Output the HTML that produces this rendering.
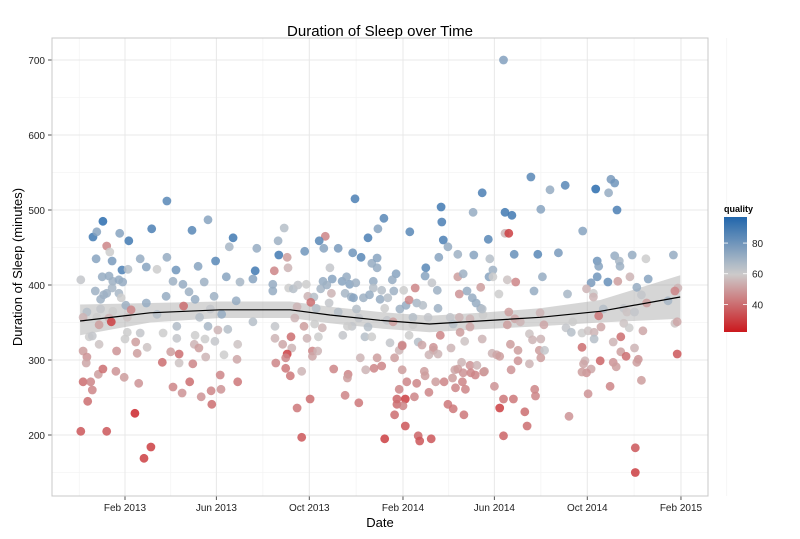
<!DOCTYPE html>
<html><head><meta charset="utf-8">
<style>
body{margin:0;background:#fff;}
svg{display:block;font-family:"Liberation Sans",Arial,sans-serif;}
</style></head>
<body>
<svg id="chart" width="800" height="539" viewBox="0 0 800 539">
  <rect x="0" y="0" width="800" height="539" fill="#fff"/>
  <g id="grid"></g>
  <g id="band"></g>
  <g id="points"></g>
  <g id="smooth"></g>
  <g id="axes"></g>
  <text x="380" y="36" text-anchor="middle" font-size="15" fill="#000">Duration of Sleep over Time</text>
  <text x="380" y="527" text-anchor="middle" font-size="13" fill="#000">Date</text>
  <text x="0" y="0" transform="translate(22,267) rotate(-90)" text-anchor="middle" font-size="13" fill="#000">Duration of Sleep (minutes)</text>
  <g id="legend"></g>
</svg>
<script>
// days since 2013-02-01, minutes of sleep, quality
const days = [-29,-42,-37,-24,-20,-38,-17,-4,4,-58,-30,-21,-16,-8,-3,-39,-24,-17,-28,-32,-8,-5,1,-50,-32,-16,8,-55,-37,-21,-18,-34,3,-47,-43,-34,0,3,-55,-50,-51,-35,-29,-55,-45,-43,-49,-58,-24,13,34,25,-12,-1,
55,109,88,142,35,5,-7,67,96,119,171,173,137,55,20,28,42,63,76,104,133,151,168,84,54,92,117,146,28,77,112,42,98,127,168,68,109,135,122,20,50,68,92,105,118,148,14,29,91,97,-11,16,60,71,130,106,147,49,71,89,125,18,85,148,63,126,75,113,100,114,
302,209,263,201,255,319,340,332,280,236,261,202,213,299,310,324,331,331,196,214,269,374,415,416,418,424,437,412,458,457,469,395,394,356,351,326,326,337,353,366,381,403,410,437,444,439,449,456,461,467,467,194,194,215,221,227,238,260,272,257,265,285,291,295,303,289,297,300,313,321,335,345,341,361,369,373,383,391,411,427,439,453,470,240,248,244,251,268,271,280,304,307,298,319,344,352,378,378,398,431,440,453,197,226,223,235,249,259,286,292,315,324,348,364,373,385,390,414,405,405,411,428,446,469,197,207,218,219,213,211,198,211,217,232,239,246,246,253,254,274,293,292,309,316,327,331,337,354,360,364,364,370,383,393,394,399,408,419,430,433,442,437,444,443,453,462,454,460,471,434,447,360,399,380,243,289,307,357,368,357,365,226,354,424,431,445,368,232,341,385,387,402,
533,558,578,618,635,638,643,646,499,508,546,499,504,477,601,511,542,569,479,483,478,483,502,513,548,620,622,643,649,650,666,684,720,612,620,634,647,663,672,687,491,537,581,606,615,615,678,726,722,713,469,504,512,545,519,502,550,588,579,586,628,622,655,659,669,685,655,662,680,722,725,531,535,546,600,608,616,616,625,641,651,506,516,544,551,600,482,488,492,546,516,531,507,472,604,602,612,606,600,624,641,645,651,658,669,674,672,678,725,485,538,539,497,510,637,608,492,525,528,583,497,670,670,497];
const minutes = [485,464,471,452,444,435,432,420,421,407,411,412,405,407,404,392,389,396,387,381,389,383,373,364,368,365,367,357,357,356,351,347,357,331,332,321,328,337,312,304,296,281,288,271,271,260,245,205,205,229,184,169,285,277,
512,487,473,463,475,459,469,420,425,432,419,449,451,437,435,424,421,405,401,404,411,404,408,391,385,381,385,379,376,372,368,361,357,361,351,345,345,341,340,336,336,329,333,328,325,321,324,317,321,316,312,309,311,308,307,304,301,297,296,295,280,269,271,271,264,261,256,259,251,241,
515,476,465,459,459,463,489,475,449,445,449,440,437,443,437,429,436,423,419,423,423,471,504,484,460,451,441,437,440,497,523,423,412,415,407,405,396,393,392,393,396,403,393,411,415,388,392,383,376,369,397,401,392,396,395,400,401,405,408,395,400,405,411,401,403,389,384,383,383,387,381,383,369,368,373,380,376,373,369,357,357,355,360,385,384,377,369,376,389,364,368,356,345,344,353,351,357,347,357,348,337,344,345,371,356,345,348,343,333,345,331,331,323,320,333,324,320,333,317,313,308,316,325,328,329,321,331,316,308,303,296,289,279,285,329,312,305,312,331,288,281,276,303,287,289,303,292,303,313,319,287,271,269,285,279,307,271,271,276,287,297,288,283,271,293,293,283,280,284,263,261,261,257,251,248,253,243,248,248,241,239,236,227,241,235,227,212,197,195,199,192,195,
544,527,533,528,523,541,536,500,497,493,501,469,469,461,472,441,441,443,435,420,411,411,407,404,411,432,425,439,432,425,440,435,440,403,411,404,405,411,397,408,388,392,388,395,389,384,387,396,392,379,368,364,355,363,351,347,347,351,343,337,368,359,369,364,364,376,349,343,339,349,351,335,327,328,336,339,337,328,344,324,331,321,313,313,313,317,309,307,305,303,299,295,287,285,299,295,288,283,284,299,297,291,311,305,316,301,297,273,308,265,261,252,248,248,265,255,236,231,212,225,199,183,150,700];
const quality = [95,90,75,45,60,75,78,88,65,62,72,72,70,72,72,70,70,68,70,70,68,60,70,65,62,60,45,55,60,55,30,50,58,60,62,58,60,60,50,48,52,50,40,40,45,45,40,35,35,25,30,30,48,50,
85,75,85,90,88,90,75,80,75,85,90,72,68,72,72,75,60,70,72,70,75,68,75,70,72,72,70,72,72,40,62,65,65,72,65,66,68,65,55,62,60,62,60,60,62,58,50,58,55,50,48,50,50,40,60,55,52,40,58,45,45,48,40,42,45,48,48,45,48,40,
88,65,45,70,85,88,85,75,78,80,75,90,50,80,85,72,75,72,45,55,62,
85,90,88,88,72,70,75,75,72,88,
85,75,75,72,72,65,65,70,60,45,62,70,50,70,48,72,72,72,70,50,
72,72,60,65,62,60,72,75,68,70,75,72,75,70,68,70,75,70,72,72,65,60,70,72,45,68,65,70,62,55,55,60,
55,65,40,65,62,55,65,65,62,62,65,62,50,65,60,62,65,50,52,
62,55,55,50,60,55,62,60,65,60,62,50,60,65,52,45,48,50,55,55,58,55,
55,52,40,55,30,45,45,42,42,55,55,45,52,55,60,45,45,50,55,55,45,50,45,50,55,45,50,45,45,50,50,55,50,45,50,52,55,50,48,45,48,55,45,45,45,45,45,45,45,45,40,45,42,38,30,40,45,42,40,42,42,42,35,35,30,38,35,35,
85,72,85,95,72,78,80,88,90,90,75,55,30,85,75,82,85,78,65,70,75,60,58,45,72,80,75,72,68,70,72,60,72,78,80,82,50,55,72,75,60,72,68,55,60,55,62,55,45,68,65,50,52,55,55,50,52,60,62,65,65,42,62,58,62,50,58,60,52,58,52,58,55,55,60,58,55,65,52,55,40,50,50,50,62,40,55,52,50,50,48,55,48,50,55,52,52,48,50,38,48,50,50,40,55,48,50,50,35,48,45,45,42,42,45,48,30,40,40,48,38,35,30,76];
// smoother (loess) estimates
const smoothDays = [-59,33,125,217,269,335,400,466,545,624,729];
const smoothMid = [352,363,367,367,360,353,348,352,357,365,384];
const smoothLo = [333,350,356,356,349,342,337,341,345,350,355];
const smoothHi = [374,376,378,378,371,364,359,363,369,380,413];
const yTicks = [200,300,400,500,600,700];
const yMinor = [150,250,350,450,550,650];
const xTickDays = [0,120,242,365,485,607,730];
const xTickLabels = ["Feb 2013","Jun 2013","Oct 2013","Feb 2014","Jun 2014","Oct 2014","Feb 2015"];
const legendTicks = [40,60,80];

const NS = "http://www.w3.org/2000/svg";
const PL = 52, PR = 708, PT = 38, PB = 496;
function xs(d){ return 125 + d * 0.7616; }
function ys(m){ return 60 + (700 - m) * 0.75; }
function lerp(a,b,t){ return Math.round(a + (b - a) * t); }
function qColor(q){
  if (q === undefined) q = 60;
  const lo=[203,24,29], mid=[204,204,204], hi=[33,102,172];
  let c;
  if (q <= 60){ const t = Math.max(0,(q-22)/38); c=[lerp(lo[0],mid[0],t),lerp(lo[1],mid[1],t),lerp(lo[2],mid[2],t)]; }
  else { const t = Math.min(1,(q-60)/37); c=[lerp(mid[0],hi[0],t),lerp(mid[1],hi[1],t),lerp(mid[2],hi[2],t)]; }
  return "rgb("+c.join(",")+")";
}
function mk(tag, attrs, parent){
  const e = document.createElementNS(NS, tag);
  for (const k in attrs) e.setAttribute(k, attrs[k]);
  parent.appendChild(e); return e;
}
const grid = document.getElementById("grid");
yMinor.forEach(v => {
  const l = mk("line",{x1:PL,x2:PR,y1:ys(v),y2:ys(v),stroke:"#f4f4f4","stroke-width":0.8},grid);
  
  
});
for (let i=0;i<=xTickDays.length;i++){
  let d;
  if (i===0) d = xTickDays[0]-60;
  else if (i===xTickDays.length) d = xTickDays[i-1]+60;
  else d = (xTickDays[i-1]+xTickDays[i])/2;
  const l = mk("line",{x1:xs(d),x2:xs(d),y1:PT,y2:PB,stroke:"#f4f4f4","stroke-width":0.8},grid);
  
  
}
const axes = document.getElementById("axes");
yTicks.forEach(v => {
  const l = mk("line",{x1:PL,x2:PR,y1:ys(v),y2:ys(v),stroke:"#e8e8e8","stroke-width":1},grid);
  
  
  const tk = mk("line",{x1:PL-4,x2:PL,y1:ys(v),y2:ys(v),stroke:"#555","stroke-width":1},axes);
  
  
  const t = mk("text",{x:PL-7,y:ys(v)+4,"text-anchor":"end","font-size":10,fill:"#222"},axes);
  t.textContent = v;
  
  
});
xTickDays.forEach((d,i) => {
  const l = mk("line",{x1:xs(d),x2:xs(d),y1:PT,y2:PB,stroke:"#e8e8e8","stroke-width":1},grid);
  
  
  const tk = mk("line",{x1:xs(d),x2:xs(d),y1:PB,y2:PB+4,stroke:"#555","stroke-width":1},axes);
  
  
  const t = mk("text",{x:xs(d),y:PB+15,"text-anchor":"middle","font-size":10,fill:"#222"},axes);
  t.textContent = xTickLabels[i];
  
  
});
const frame = mk("rect",{x:PL,y:PT,width:PR-PL,height:PB-PT,fill:"none",stroke:"#c8c8c8","stroke-width":1},axes);



let bd = "";
smoothDays.forEach((d,i)=>{ bd += (i?"L":"M")+xs(d).toFixed(1)+","+ys(smoothHi[i]).toFixed(1); });
for (let i=smoothDays.length-1;i>=0;i--) bd += "L"+xs(smoothDays[i]).toFixed(1)+","+ys(smoothLo[i]).toFixed(1);
const bp = mk("path",{d:bd+"Z",fill:"#999","fill-opacity":0.4},document.getElementById("band"));



const pg = document.getElementById("points");
for (let i=0;i<days.length;i++){
  const c = mk("circle",{cx:xs(days[i]).toFixed(1),cy:ys(minutes[i]).toFixed(1),r:4.4,fill:qColor(quality[i]),"fill-opacity":0.85},pg);
  
  
}
let sd = "";
smoothDays.forEach((d,i)=>{ sd += (i?"L":"M")+xs(d).toFixed(1)+","+ys(smoothMid[i]).toFixed(1); });
const sp = mk("path",{d:sd,fill:"none",stroke:"#000","stroke-width":1.2},document.getElementById("smooth"));



const lg = document.getElementById("legend");
const lt = mk("text",{x:724,y:212,"font-size":9,"font-weight":"bold",fill:"#000"},lg);
lt.textContent = "quality";


const defs = mk("defs",{},lg);
const gr = mk("linearGradient",{id:"qg",x1:0,y1:1,x2:0,y2:0},defs);
for (let k=0;k<=10;k++){
  const q = 22 + k*7.5;
  mk("stop",{offset:(k/10),"stop-color":qColor(q)},gr);
}
const lb = mk("rect",{x:724,y:217,width:23,height:115,fill:"url(#qg)"},lg);


legendTicks.forEach(v=>{
  const y = 332 - (v-22)/75*115;
  const a = mk("line",{x1:724,x2:728,y1:y,y2:y,stroke:"#fff","stroke-width":0.8},lg);
  
  
  const b = mk("line",{x1:743,x2:747,y1:y,y2:y,stroke:"#fff","stroke-width":0.8},lg);
  
  
  const t = mk("text",{x:752,y:y+4,"font-size":10,fill:"#222"},lg);
  t.textContent = v;
  
  
});
</script>
</body></html>
